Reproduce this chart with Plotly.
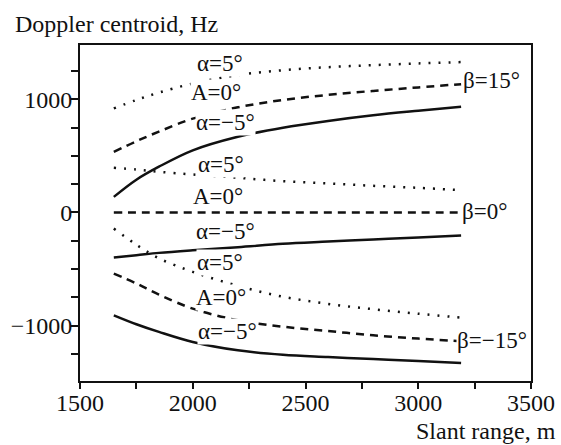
import plotly.graph_objects as go

# Slant range samples (m)
slant_range = [1650, 1750, 1850, 2000, 2200, 2400, 2600, 2800, 3000, 3190]

# beta = 15 deg
b15_a_pos5 = [920, 995, 1060, 1140, 1215, 1258, 1285, 1303, 1318, 1330]
b15_A0 = [536, 630, 715, 830, 930, 995, 1040, 1075, 1106, 1135]
b15_a_neg5 = [138, 290, 405, 550, 670, 750, 810, 860, 900, 935]

# beta = 0 deg
b0_a_pos5 = [395, 380, 360, 336, 307, 277, 257, 236, 218, 197]
b0_A0 = [0, 0, 0, 0, 0, 0, 0, 0, 0, 0]
b0_a_neg5 = [-398, -378, -357, -334, -307, -276, -257, -239, -221, -204]

# beta = -15 deg
bm15_a_pos5 = [-142, -285, -405, -525, -648, -745, -808, -855, -895, -930]
bm15_A0 = [-540, -628, -726, -850, -953, -1010, -1048, -1086, -1115, -1139]
bm15_a_neg5 = [-909, -988, -1056, -1145, -1219, -1258, -1278, -1296, -1313, -1331]

x_tickvals = [1500, 1750, 2000, 2250, 2500, 2750, 3000, 3250, 3500]
x_ticktext = ["1500", "", "2000", "", "2500", "", "3000", "", "3500"]
y_tickvals = [-1250, -1000, -750, -500, -250, 0, 250, 500, 750, 1000, 1250]
y_ticktext = ["", "\u22121000", "", "", "", "0", "", "", "", "1000", ""]

# curve labels: (text, x, y, xanchor)
labels = [
    ("\u03b1=5\u00b0", 2119, 1318, "center"),
    ("A=0\u00b0", 2103, 1058, "center"),
    ("\u03b1=\u22125\u00b0", 2143, 792, "center"),
    ("\u03b1=5\u00b0", 2125, 422, "center"),
    ("A=0\u00b0", 2112, 138, "center"),
    ("\u03b1=\u22125\u00b0", 2147, -172, "center"),
    ("\u03b1=5\u00b0", 2121, -446, "center"),
    ("A=0\u00b0", 2125, -755, "center"),
    ("\u03b1=\u22125\u00b0", 2156, -1056, "center"),
    ("\u03b2=15\u00b0", 3196, 1165, "left"),
    ("\u03b2=0\u00b0", 3190, 8, "left"),
    ("\u03b2=\u221215\u00b0", 3168, -1130, "left"),
]

FONT = "Liberation Serif, Times New Roman, serif"
DOT = "2px,8px"
DASH = "8px,6px"

# plot-area geometry in pixels
L, R, T, B = 80, 30, 45, 64
PW, PH = 561 - L - R, 445 - T - B

fig = go.Figure()
series = [
    (b15_a_pos5, DOT), (b15_A0, DASH), (b15_a_neg5, "solid"),
    (b0_a_pos5, DOT), (b0_A0, DASH), (b0_a_neg5, "solid"),
    (bm15_a_pos5, DOT), (bm15_A0, DASH), (bm15_a_neg5, "solid"),
]
for ys, dash in series:
    fig.add_trace(go.Scatter(x=slant_range, y=ys, mode="lines",
                             line=dict(color="#111", width=2.5, dash=dash, shape="spline", smoothing=1.0),
                             showlegend=False, hoverinfo="skip"))

for text, x, y, xa in labels:
    fig.add_annotation(x=x, y=y, xref="x", yref="y", text=text, showarrow=False,
                       xanchor=xa, yanchor="middle", bgcolor="white", borderpad=0,
                       font=dict(family=FONT, size=23, color="#111"))

fig.add_annotation(x=(13 - L) / PW, y=1 + (T - 24) / PH, xref="paper", yref="paper",
                   text="Doppler centroid, Hz", showarrow=False, xanchor="left", yanchor="middle",
                   font=dict(family=FONT, size=24, color="#111"))
fig.add_annotation(x=(558 - L) / PW, y=-(431 - (445 - B)) / PH, xref="paper", yref="paper",
                   text="Slant range, m", showarrow=False, xanchor="right", yanchor="middle",
                   font=dict(family=FONT, size=24, color="#111"))

fig.update_layout(
    width=561, height=445,
    margin=dict(l=L, r=R, t=T, b=B, pad=0, autoexpand=False),
    paper_bgcolor="white", plot_bgcolor="white",
    font=dict(family=FONT, size=24, color="#111"),
)
fig.update_xaxes(range=[1500, 3500], tickmode="array", tickvals=x_tickvals, ticktext=x_ticktext,
                 ticks="outside", ticklen=6, tickwidth=2, tickcolor="#111", ticklabelstandoff=-7,
                 showline=True, linewidth=2, linecolor="#111", mirror=True, automargin=False,
                 showgrid=False, zeroline=False, tickfont=dict(family=FONT, size=24))
fig.update_yaxes(range=[-1490, 1481], tickmode="array", tickvals=y_tickvals, ticktext=y_ticktext,
                 ticks="outside", ticklen=7, tickwidth=2, tickcolor="#111", ticklabelstandoff=-6,
                 showline=True, linewidth=2, linecolor="#111", mirror=True, automargin=False,
                 showgrid=False, zeroline=False, tickfont=dict(family=FONT, size=24))

fig.write_html("out.html", config={"displayModeBar": False},
               post_script="document.body.style.margin='0';document.body.style.overflow='hidden';")
